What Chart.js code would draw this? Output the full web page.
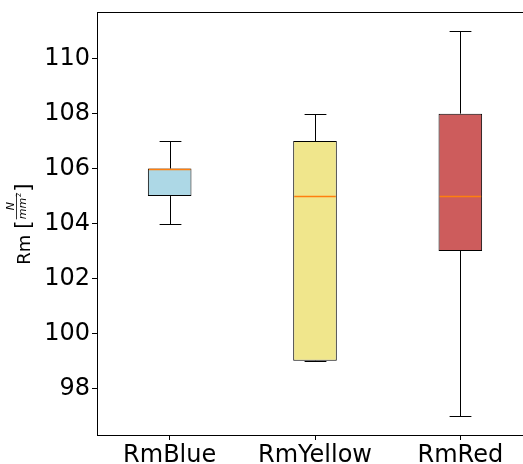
<!DOCTYPE html>
<html>
<head>
<meta charset="utf-8">
<script src="https://cdn.jsdelivr.net/npm/chart.js@4/dist/chart.umd.min.js"></script>
<style>
  html, body { margin: 0; padding: 0; overflow: hidden; background: #fff; }
  #wrap { width: 523px; height: 464px; overflow: hidden; }
  canvas { display: block; }
</style>
</head>
<body>
<div id="wrap"><canvas id="canvas" width="545" height="464"></canvas></div>
<script>
var categories = ['RmBlue', 'RmYellow', 'RmRed'];
var whiskerLow = [104, 99, 97];
var q1 = [105, 99, 103];
var median = [106, 105, 105];
var q3 = [106, 107, 108];
var whiskerHigh = [107, 108, 111];
var yTicks = [98, 100, 102, 104, 106, 108, 110];

var boxColors = ['#ADD8E6', '#F0E68C', '#CD5C5C'];
var font = 'DejaVu Sans';

function px(v) { return Math.round(v) + 0.5; }

function noPadding(scale) {
    scale.paddingTop = 0;
    scale.paddingBottom = 0;
    scale.paddingLeft = 0;
    scale.paddingRight = 0;
}

// whiskers and caps under the boxes, medians on top
var whiskerPlugin = {
    id: 'whiskers',
    beforeDatasetsDraw: function (chart) {
        var ctx = chart.ctx;
        var xs = chart.scales.x, ys = chart.scales.y;
        var meta = chart.getDatasetMeta(0);
        ctx.save();
        ctx.strokeStyle = '#000';
        ctx.lineWidth = 1;
        for (var i = 0; i < categories.length; i++) {
            var x = px(xs.getPixelForValue(i));
            var cap = meta.data[i].width / 4;
            var yLo = px(ys.getPixelForValue(whiskerLow[i]));
            var yQ1 = ys.getPixelForValue(q1[i]);
            var yQ3 = ys.getPixelForValue(q3[i]);
            var yHi = px(ys.getPixelForValue(whiskerHigh[i]));
            ctx.beginPath();
            ctx.moveTo(x, yQ1); ctx.lineTo(x, yLo);
            ctx.moveTo(x, yQ3); ctx.lineTo(x, yHi);
            ctx.moveTo(x - cap, yLo); ctx.lineTo(x + cap, yLo);
            ctx.moveTo(x - cap, yHi); ctx.lineTo(x + cap, yHi);
            ctx.stroke();
        }
        ctx.restore();
    },
    afterDatasetsDraw: function (chart) {
        var ctx = chart.ctx;
        var xs = chart.scales.x, ys = chart.scales.y;
        var meta = chart.getDatasetMeta(0);
        ctx.save();
        ctx.strokeStyle = '#ff7f0e';
        ctx.lineWidth = 1.5;
        for (var i = 0; i < categories.length; i++) {
            var x = xs.getPixelForValue(i);
            var half = meta.data[i].width / 2;
            var yMed = px(ys.getPixelForValue(median[i]));
            ctx.beginPath();
            ctx.moveTo(x - half + 1, yMed); ctx.lineTo(x + half - 1, yMed);
            ctx.stroke();
        }
        ctx.restore();
    },
    afterDraw: function (chart) {
        var ctx = chart.ctx;
        var a = chart.chartArea;
        ctx.save();
        // top spine
        ctx.strokeStyle = '#000';
        ctx.lineWidth = 1;
        ctx.beginPath();
        ctx.moveTo(a.left, Math.round(a.top) + 0.5);
        ctx.lineTo(chart.width, Math.round(a.top) + 0.5);
        ctx.stroke();

        // y axis title: Rm [N / mm²]
        ctx.translate(30, 224);
        ctx.rotate(-Math.PI / 2);
        ctx.fillStyle = '#000';
        ctx.textBaseline = 'alphabetic';
        ctx.font = '18px "' + font + '"';
        var rm = 'Rm ';
        var wRm = ctx.measureText(rm).width;
        ctx.font = '22px "' + font + '"';
        var wBr = ctx.measureText('[').width;
        ctx.font = 'italic 11px "' + font + '"';
        var wDen = ctx.measureText('mm').width + 5;
        var total = wRm + wBr * 2 + wDen + 2;
        var p = -total / 2;
        ctx.font = '18px "' + font + '"';
        ctx.fillText(rm, p, 0);
        p += wRm;
        ctx.font = '22px "' + font + '"';
        ctx.fillText('[', p, 0);
        p += wBr + 1;
        ctx.font = 'italic 11px "' + font + '"';
        ctx.textAlign = 'center';
        ctx.fillText('N', p + wDen / 2, -16);
        ctx.fillText('mm', p + (wDen - 5) / 2, -4);
        ctx.font = '7px "' + font + '"';
        ctx.fillText('2', p + wDen - 2, -9);
        ctx.textAlign = 'left';
        ctx.fillRect(p, -14, wDen, 0.8);
        p += wDen + 1;
        ctx.font = '22px "' + font + '"';
        ctx.fillText(']', p, 0);
        ctx.restore();
    }
};

window.onload = function () {
    var ctx = document.getElementById('canvas').getContext('2d');
    window.myBoxChart = new Chart(ctx, {
        type: 'bar',
        data: {
            labels: categories,
            datasets: [{
                data: categories.map(function (c, i) { return [q1[i], q3[i]]; }),
                backgroundColor: boxColors,
                borderColor: '#000',
                borderWidth: 1,
                borderSkipped: false,
                barPercentage: 0.3,
                categoryPercentage: 1.0
            }]
        },
        options: {
            responsive: false,
            animation: false,
            layout: { padding: { top: 12, right: 12, left: 0, bottom: 0 } },
            plugins: {
                legend: { display: false },
                tooltip: { enabled: false },
                title: { display: false }
            },
            scales: {
                x: {
                    offset: true,
                    grid: { display: true, offset: false, drawOnChartArea: false, tickLength: 5, color: '#000' },
                    border: { display: true, color: '#000', width: 1 },
                    ticks: { color: '#000', padding: 1, font: { family: font, size: 24 }, maxRotation: 0 },
                    afterFit: function (scale) { scale.height = 29; noPadding(scale); }
                },
                y: {
                    min: 96.3,
                    max: 111.7,
                    grid: { display: true, drawOnChartArea: false, tickLength: 5, color: '#000' },
                    border: { display: true, color: '#000', width: 1 },
                    ticks: { color: '#000', padding: 2, font: { family: font, size: 24 } },
                    afterBuildTicks: function (axis) {
                        axis.ticks = yTicks.map(function (v) { return { value: v }; });
                    },
                    afterFit: function (scale) { scale.width = 97; noPadding(scale); }
                }
            }
        },
        plugins: [whiskerPlugin]
    });
};
</script>
</body>
</html>
